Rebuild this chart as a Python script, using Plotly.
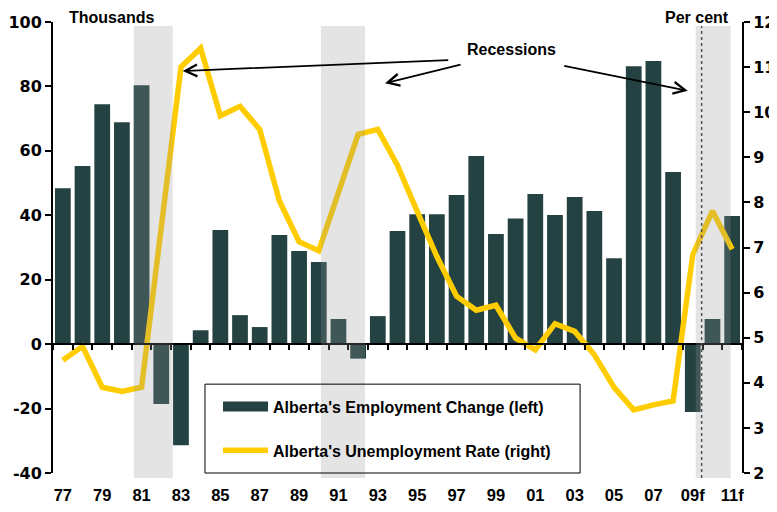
import plotly.graph_objects as go

years = ["77", "78", "79", "80", "81", "82", "83", "84", "85", "86", "87", "88", "89",
         "90", "91", "92", "93", "94", "95", "96", "97", "98", "99", "00", "01", "02",
         "03", "04", "05", "06", "07", "08", "09f", "10f", "11f"]
employment_change = [48.4, 55.3, 74.5, 68.9, 80.4, -18.6, -31.4, 4.3, 35.4, 9.0, 5.3, 33.9,
                     28.9, 25.5, 7.8, -4.5, 8.7, 35.1, 40.3, 40.3, 46.3, 58.4, 34.2, 39.0,
                     46.6, 40.1, 45.7, 41.3, 26.7, 86.3, 87.9, 53.4, -21.1, 7.8, 39.8]
unemployment_rate = [4.5, 4.81, 3.9, 3.81, 3.9, 7.5, 11.0, 11.42, 9.92, 10.13, 9.62, 8.03,
                     7.13, 6.93, 8.22, 9.51, 9.62, 8.82, 7.8, 6.8, 5.92, 5.61, 5.72, 4.99,
                     4.73, 5.31, 5.14, 4.62, 3.9, 3.4, 3.51, 3.6, 6.84, 7.81, 6.96]
label_years = years[::2]
left_ticks = [-40, -20, 0, 20, 40, 60, 80, 100]
left_tick_labels = ["-40", "-20", "0", "20", "40", "60", "80", "100"]
right_ticks = [2, 3, 4, 5, 6, 7, 8, 9, 10, 11, 12]
recessions = [(3.61, 5.58), (13.11, 15.35), (32.15, 33.92)]
forecast_start = 32.45

BAR = "#234241"
GOLD = "#FFCC00"
ARIAL = "Liberation Sans"
TICKFONT = dict(family="DejaVu Sans", size=16, color="black", weight="bold")

fig = go.Figure()
fig.add_trace(go.Bar(x=years, y=employment_change, marker=dict(color=BAR, line=dict(width=0)),
                     width=0.8, name="Alberta's Employment Change (left)",
                     showlegend=False, legendgroup="emp", xaxis="x", yaxis="y"))
# legend swatch for the bars (wide rectangle like the original)
fig.add_trace(go.Scatter(x=[None], y=[None], mode="lines", line=dict(color=BAR, width=11),
                         name="Alberta's Employment Change (left)", legendgroup="emp",
                         xaxis="x", yaxis="y"))
fig.add_trace(go.Scatter(x=years, y=unemployment_rate, mode="lines",
                         line=dict(color=GOLD, width=5.5),
                         name="Alberta's Unemployment Rate (right)", legendgroup="ur",
                         xaxis="x2", yaxis="y2"))

shapes = []
for a, b in recessions:
    shapes.append(dict(type="rect", xref="x", yref="paper", x0=a, x1=b, y0=-0.011, y1=0.991,
                       fillcolor="rgba(150,150,150,0.26)", line=dict(width=0), layer="above"))
shapes.append(dict(type="line", xref="x", yref="paper", x0=forecast_start, x1=forecast_start,
                   y0=-0.011, y1=0.991, line=dict(color="#555555", width=1.5, dash="dot"),
                   layer="above"))
# legend frame
shapes.append(dict(type="rect", xref="paper", yref="paper", x0=0.2206, x1=0.765, y0=0.0,
                   y1=0.197, line=dict(color="black", width=1), fillcolor="rgba(0,0,0,0)",
                   layer="above"))

ann_font = dict(family=ARIAL, size=16, color="black", weight="bold")
top_y = 1 + 14 / 451
annotations = [
    dict(text="Thousands", xref="paper", yref="paper", x=0.0842, y=top_y, showarrow=False,
         font=ann_font, xanchor="center", yanchor="top", borderpad=0),
    dict(text="Per cent", xref="paper", yref="paper", x=0.9347, y=top_y, showarrow=False,
         font=ann_font, xanchor="center", yanchor="top", borderpad=0),
    dict(text="Recessions", xref="paper", yref="paper", x=0.666, y=0.938, showarrow=False,
         font=ann_font, xanchor="center", yanchor="middle"),
]
for hx, hy, ax, ay in [(0.1883, 0.8914, 267, -11), (0.4819, 0.8641, 77, -19),
                       (0.9212, 0.8477, -125, -25)]:
    annotations.append(dict(text="", xref="paper", yref="paper", x=hx, y=hy, ax=ax, ay=ay,
                            axref="pixel", ayref="pixel", showarrow=True, arrowhead=5,
                            arrowsize=1.3, arrowwidth=1.8, arrowcolor="black"))

fig.update_layout(
    width=769, height=496,
    margin=dict(l=45, r=35, t=14, b=31, autoexpand=False),
    paper_bgcolor="white", plot_bgcolor="white",
    bargap=0.2,
    shapes=shapes,
    annotations=annotations,
    showlegend=True,
    legend=dict(x=0.2395, y=0.185, xanchor="left", yanchor="top", bgcolor="rgba(0,0,0,0)",
                font=dict(family=ARIAL, size=16, color="black", weight="bold"),
                traceorder="grouped", tracegroupgap=20, itemwidth=45),
    xaxis=dict(type="category", categoryorder="array", categoryarray=years,
               range=[-0.5, 34.5], anchor="free", position=40 / 140, automargin=False,
               showline=True, linecolor="black", linewidth=2,
               ticks="outside", ticklen=5, tickwidth=2, tickcolor="black",
               tickson="boundaries", showticklabels=False, showgrid=False, zeroline=False),
    xaxis2=dict(type="category", categoryorder="array", categoryarray=years,
                overlaying="x", matches="x", anchor="y2", side="bottom", automargin=False,
                showline=False, ticks="", tickmode="array", tickvals=label_years,
                ticktext=label_years, ticklabelstandoff=10,
                tickfont=dict(family=ARIAL, size=16.5, color="black", weight="bold"),
                showgrid=False, zeroline=False),
    yaxis=dict(range=[-40, 100], tickmode="array", tickvals=left_ticks,
               ticktext=left_tick_labels, automargin=False,
               showline=True, linecolor="black", linewidth=2,
               ticks="outside", ticklen=6, tickwidth=2, tickcolor="black",
               tickfont=TICKFONT, showgrid=False, zeroline=False),
    yaxis2=dict(range=[2, 12], tickmode="array", tickvals=right_ticks, overlaying="y",
                side="right", anchor="x2", automargin=False,
                showline=True, linecolor="black", linewidth=2,
                ticks="outside", ticklen=6, tickwidth=2, tickcolor="black",
                tickfont=TICKFONT, showgrid=False, zeroline=False),
)

fig.write_html("out.html")
